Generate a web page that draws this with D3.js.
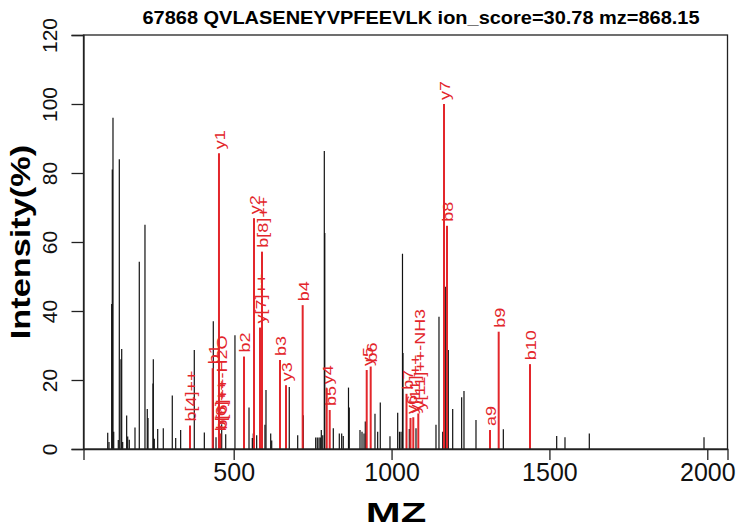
<!DOCTYPE html>
<html><head><meta charset="utf-8">
<script src="https://cdn.jsdelivr.net/npm/d3@7"></script>
<style>body{margin:0;background:#fff} svg{display:block} text{font-family:"Liberation Sans",Arial,Helvetica,sans-serif}</style>
</head><body><svg id="c" width="737" height="527"></svg>
<script>
const titleText = "67868 QVLASENEYVPFEEVLK ion_score=30.78 mz=868.15";
const xLabel = "MZ";
const yLabel = "Intensity(%)";
const xTicks = [500, 1000, 1500, 2000];
const yTicks = [0, 20, 40, 60, 80, 100, 120];

// unmatched peaks (black)
const peakMz = [101,105,113.6,115.5,117.7,120,134.5,137.7,143,145.3,148.4,161,164.3,169.3,187.4,201,219,226.3,228.6,244.4,245.4,248.5,259.3,277,305.5,316.3,332,375.2,407,435.4,444,462,474.7,504,548.5,559,562,572.8,585,599,602.3,617.2,620.4,676,702.7,720.4,759.7,764.8,770.2,774.3,777.5,782,787,788.5,815.5,834.5,842,847,863.6,866,900,906.4,912.7,916.8,947.5,956,964.3,995,1019.4,1025,1030,1034.6,1036.2,1056.2,1077.4,1140.7,1150.2,1162,1171.5,1179.7,1193.6,1222,1229.4,1267.4,1354,1523,1549.3,1626.3,1989.6];
const peakInt = [4.7,2,42,81,96,5,2.6,84,26,29,2,9.7,3.6,2.7,6.2,54.3,65,11.6,9,19,26,3,5.8,6,15.5,3.2,5.5,28.7,4.8,37,3.4,7.2,4.3,33,12,3.2,4.5,4,35,7,17.1,4.5,2.5,18,4,9.8,3.3,3.3,3.3,3.3,5.5,4,86.4,62.6,6,4.5,4.5,3.8,17.8,12,5.5,5,4.5,8,10.2,5,13.5,3.7,10.5,5,5,56.6,27.8,5.8,6,7,38.3,5,47,28.7,11.6,15,16.8,8.4,5.7,3.8,3.4,4.5,3.4];

// matched ions (red)
const ionLabel = ["b[4]++","b1","y1","b[6]++","b[6]++-H2O","b2","y2","y[7]++","b[8]++","b3","y3","b4","y4","b5","y5","b6","b7","y6","y[11]++","y[11]++-NH3","y7","b8","a9","b9","b10"];
const ionMz = [361.6,433.5,453.4,455.8,457.5,532.6,564.3,583.3,589.6,646.6,665.6,718.5,794.6,804.1,921.3,933.9,1047.3,1060,1068.8,1084.7,1166.1,1175.6,1311.8,1339.3,1438.5];
const ionInt = [6.8,23.4,85.7,4,4.5,26.8,66.9,35.2,57.2,25.8,18.5,41.7,17.6,11.3,22.9,23.9,16,9,9.2,10.3,100,64.7,5.5,34,24.6];

const svg = d3.select("#c");
const L = 83.5, R = 727.5, T = 35, B = 449;
const x = d3.scaleLinear().domain([24.3, 2064]).range([L, R]);
const y = d3.scaleLinear().domain([0, 120]).range([B, T]);
const red = "#e3262b";
const axisCol = "#222";

// black peaks
svg.append("g").selectAll("line").data(peakMz.map((m, i) => ({m, v: peakInt[i]})))
  .join("line")
  .attr("x1", d => x(d.m)).attr("x2", d => x(d.m))
  .attr("y1", y(0)).attr("y2", d => y(d.v))
  .attr("stroke", "#111").attr("stroke-width", 1.2);

const ions = ionMz.map((m, i) => ({m, v: ionInt[i], t: ionLabel[i]}));
svg.append("g").selectAll("line").data(ions)
  .join("line")
  .attr("x1", d => x(d.m)).attr("x2", d => x(d.m))
  .attr("y1", y(0)).attr("y2", d => y(d.v))
  .attr("stroke", red).attr("stroke-width", 2);

svg.append("g").selectAll("text").data(ions)
  .join("text")
  .attr("transform", d => `translate(${x(d.m)},${y(d.v) - 4}) rotate(-90) scale(1.2,1)`)
  .attr("dy", "0.42em")
  .attr("font-size", 15)
  .attr("fill", red)
  .text(d => d.t);

// box
svg.append("rect").attr("x", L).attr("y", T).attr("width", R - L).attr("height", B - T)
  .attr("fill", "none").attr("stroke", axisCol).attr("stroke-width", 1.3);

// x axis
const gx = svg.append("g").attr("transform", `translate(0,${B})`)
  .call(d3.axisBottom(x).tickValues(xTicks).tickSize(11).tickFormat(d3.format("d")));
gx.select(".domain").attr("stroke", axisCol).attr("stroke-width", 1.3);
gx.selectAll(".tick line").attr("stroke", axisCol).attr("stroke-width", 1.3);
gx.selectAll(".tick text").attr("y", 0).attr("dy", 0)
  .attr("transform", "translate(0,32) scale(1.0,1)")
  .attr("font-size", 25).attr("fill", "#111").attr("font-family", null);

// y axis
const gy = svg.append("g").attr("transform", `translate(${L},0)`)
  .call(d3.axisLeft(y).tickValues(yTicks).tickSize(12).tickFormat(d3.format("d")));
gy.select(".domain").attr("stroke", axisCol).attr("stroke-width", 1.3);
gy.selectAll(".tick line").attr("stroke", axisCol).attr("stroke-width", 1.3);
gy.selectAll(".tick text").attr("x", 0).attr("dy", 0)
  .attr("transform", "translate(-27,0) rotate(-90) scale(1.05,1)")
  .attr("text-anchor", "middle")
  .attr("font-size", 20).attr("fill", "#111").attr("font-family", null);

// titles
svg.append("text").attr("transform", `translate(421,24) scale(1.11,1)`)
  .attr("text-anchor", "middle").attr("font-weight", "bold").attr("font-size", 18)
  .text(titleText);
svg.append("text").attr("transform", `translate(396,522) scale(1.55,1)`)
  .attr("text-anchor", "middle").attr("font-weight", "bold").attr("font-size", 27)
  .text(xLabel);
svg.append("text").attr("transform", `translate(30,${(T + B) / 2}) rotate(-90) scale(1.27,1)`)
  .attr("text-anchor", "middle").attr("font-weight", "bold").attr("font-size", 27)
  .text(yLabel);
</script></body></html>
